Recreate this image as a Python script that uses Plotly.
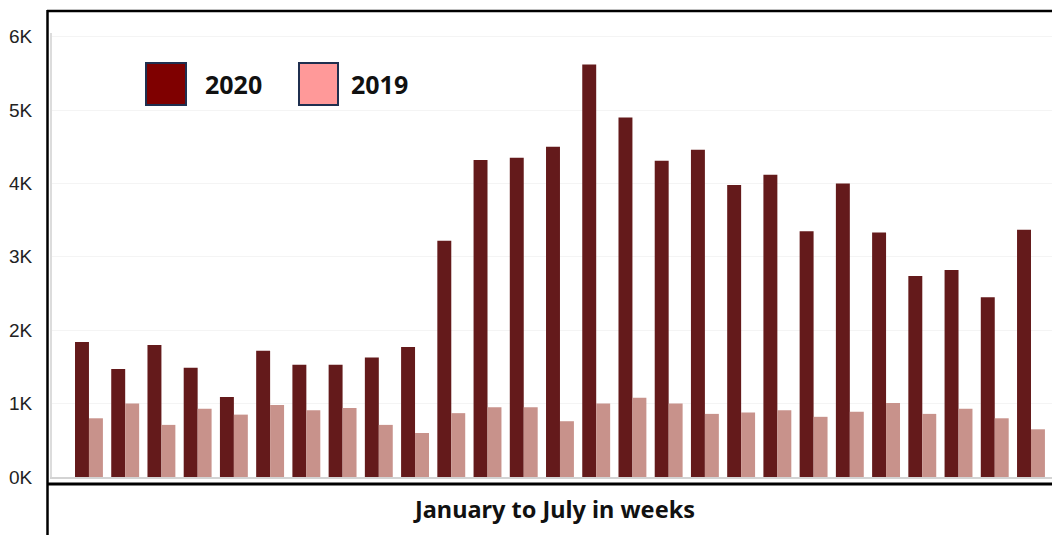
import plotly.graph_objects as go

# Weekly counts, January to July (27 weeks)
weeks = list(range(1, 28))
counts_2020 = [1840, 1470, 1800, 1490, 1090, 1720, 1530, 1530, 1630, 1770,
               3220, 4320, 4350, 4500, 5620, 4900, 4310, 4460, 3980, 4120,
               3350, 4000, 3330, 2740, 2820, 2450, 3370]
counts_2019 = [800, 1000, 710, 930, 850, 980, 910, 940, 710, 600,
               870, 950, 950, 760, 1000, 1080, 1000, 860, 880, 910,
               820, 890, 1010, 860, 930, 800, 650]

tick_vals = [0, 1000, 2000, 3000, 4000, 5000, 6000]
tick_text = ["0K", "1K", "2K", "3K", "4K", "5K", "6K"]

bar_dark = "#641a1b"
bar_light = "#c8928b"
legend_dark = "#7f0000"
legend_light = "#ff9999"
legend_edge = "#1f2f4f"

fig = go.Figure()
fig.add_trace(go.Bar(x=weeks, y=counts_2020, name="2020",
                     marker=dict(color=bar_dark, line=dict(width=0))))
fig.add_trace(go.Bar(x=weeks, y=counts_2019, name="2019",
                     marker=dict(color=bar_light, line=dict(width=0))))

W, H = 1052, 535
L, R, T, B = 52, 0, 33, 58
pw, ph = W - L - R, H - T - B


def px(x):
    return (x - L) / pw


def py(y):
    return (H - B - y) / ph


shapes = [
    # frame around the chart and the axis-title band
    dict(type="line", xref="paper", yref="paper", x0=px(47), x1=px(1060),
         y0=py(11), y1=py(11), line=dict(color="black", width=2.5)),
    dict(type="line", xref="paper", yref="paper", x0=px(47.5), x1=px(47.5),
         y0=py(10), y1=py(540), line=dict(color="black", width=2.5)),
    dict(type="line", xref="paper", yref="paper", x0=px(47), x1=px(1060),
         y0=py(484), y1=py(484), line=dict(color="black", width=3)),
    # legend swatches
    dict(type="rect", xref="paper", yref="paper", x0=px(146), x1=px(186),
         y0=py(63), y1=py(105), fillcolor=legend_dark,
         line=dict(color=legend_edge, width=2)),
    dict(type="rect", xref="paper", yref="paper", x0=px(299), x1=px(338),
         y0=py(63), y1=py(105), fillcolor=legend_light,
         line=dict(color=legend_edge, width=2)),
]

annotations = [
    dict(text="<b>2020</b>", xref="paper", yref="paper", x=px(203), y=py(84),
         xanchor="left", yanchor="middle", showarrow=False,
         font=dict(family="Noto Sans", size=25, color="#111111")),
    dict(text="<b>2019</b>", xref="paper", yref="paper", x=px(349), y=py(84),
         xanchor="left", yanchor="middle", showarrow=False,
         font=dict(family="Noto Sans", size=25, color="#111111")),
    dict(text="<b>January to July in weeks</b>", xref="paper", yref="paper",
         x=px(554), y=py(509), xanchor="center", yanchor="middle",
         showarrow=False,
         font=dict(family="Noto Sans", size=23.5, color="#111111")),
]

fig.update_layout(
    width=W, height=H,
    margin=dict(l=L, r=R, t=T, b=B, pad=0),
    paper_bgcolor="white", plot_bgcolor="white",
    barmode="group", bargap=0.23, bargroupgap=0,
    showlegend=False,
    shapes=shapes, annotations=annotations,
    font=dict(family="Liberation Sans", size=19, color="#222222"),
)
fig.update_xaxes(
    range=[-0.02, 27.58], showticklabels=False, showgrid=False, zeroline=False,
    showline=True, linecolor="#d3d3d3", linewidth=2, ticks="",
)
fig.update_yaxes(
    range=[0, 6050], tickvals=tick_vals, ticktext=tick_text,
    showgrid=True, gridcolor="#f4f4f4", gridwidth=1, zeroline=False,
    showline=True, linecolor="#dcdcdc", linewidth=2,
    ticks="outside", ticklen=14, tickcolor="rgba(0,0,0,0)",
    tickfont=dict(family="Liberation Sans", size=19, color="#222222"),
)

fig.write_html("out.html")
